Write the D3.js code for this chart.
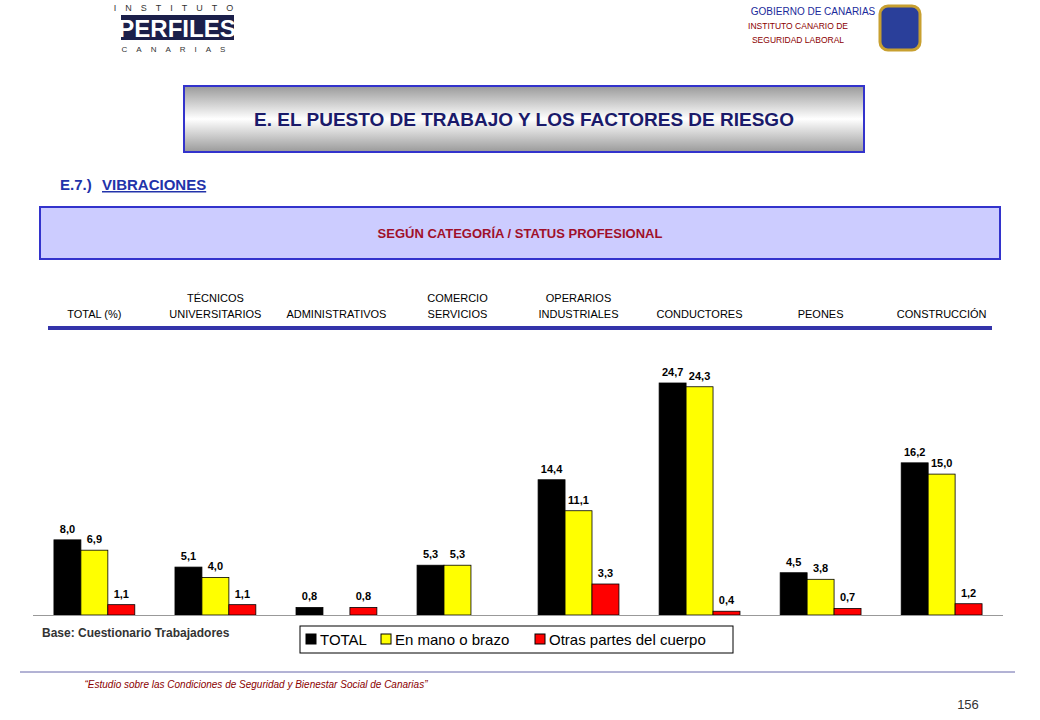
<!DOCTYPE html>
<html><head><meta charset="utf-8">
<script src="https://cdn.jsdelivr.net/npm/d3@7"></script>
<style>body{margin:0;background:#fff}svg{font-family:Arial,"Liberation Sans",sans-serif}</style>
</head><body><svg width="1040" height="720"></svg>
<script>
// data
categories = ["TOTAL (%)","TÉCNICOS\nUNIVERSITARIOS","ADMINISTRATIVOS","COMERCIO\nSERVICIOS","OPERARIOS\nINDUSTRIALES","CONDUCTORES","PEONES","CONSTRUCCIÓN"];
seriesNames = ["TOTAL","En mano o brazo","Otras partes del cuerpo"];
seriesColors = ["#000000","#ffff00","#ff0000"];
totalVals = [8.0,5.1,0.8,5.3,14.4,24.7,4.5,16.2];
manoVals = [6.9,4.0,null,5.3,11.1,24.3,3.8,15.0];
otrasVals = [1.1,1.1,0.8,null,3.3,0.4,0.7,1.2];
series = [totalVals,manoVals,otrasVals];

svg = d3.select("svg");
fmt = d => d.toFixed(1).replace(".",",");

// header
svg.append("text").attr("x",813).attr("y",15).attr("text-anchor","middle").attr("font-size",10).attr("fill","#1a2a9a").text("GOBIERNO DE CANARIAS");
svg.append("text").attr("x",798).attr("y",29).attr("text-anchor","middle").attr("font-size",8.5).attr("fill","#8b0000").text("INSTITUTO CANARIO DE");
svg.append("text").attr("x",798).attr("y",43).attr("text-anchor","middle").attr("font-size",8.5).attr("fill","#8b0000").text("SEGURIDAD LABORAL");
// logo text
svg.append("text").attr("x",178).attr("y",11).attr("text-anchor","middle").attr("font-size",9).attr("letter-spacing",9).attr("fill","#333").text("INSTITUTO");
svg.append("rect").attr("x",121).attr("y",15).attr("width",113).attr("height",25).attr("fill","#1b1f4a");
svg.append("text").attr("x",177).attr("y",37).attr("text-anchor","middle").attr("font-size",24).attr("font-weight","bold").attr("fill","#fff").attr("font-family","Liberation Sans Narrow, Arial").text("PERFILES");
svg.append("text").attr("x",178).attr("y",52).attr("text-anchor","middle").attr("font-size",8).attr("letter-spacing",9).attr("fill","#333").text("CANARIAS");
svg.append("rect").attr("x",880).attr("y",6).attr("width",40).attr("height",44).attr("rx",8).attr("fill","#2a3f9a").attr("stroke","#c8a030").attr("stroke-width",3);

// title box
grad = svg.append("defs").append("linearGradient").attr("id","g").attr("x1",0).attr("y1",0).attr("x2",0).attr("y2",1);
grad.append("stop").attr("offset",0).attr("stop-color","#9a9a9a");
grad.append("stop").attr("offset",0.5).attr("stop-color","#ffffff");
grad.append("stop").attr("offset",1).attr("stop-color","#9a9a9a");
svg.append("rect").attr("x",184).attr("y",86).attr("width",680).attr("height",66).attr("fill","url(#g)").attr("stroke","#3333cc").attr("stroke-width",2);
svg.append("text").attr("x",524).attr("y",126).attr("text-anchor","middle").attr("font-size",19).attr("font-weight","bold").attr("fill","#1a1a6a").text("E. EL PUESTO DE TRABAJO Y LOS FACTORES DE RIESGO");
svg.append("text").attr("x",60).attr("y",190).attr("font-size",15).attr("font-weight","bold").attr("fill","#2233aa").text("E.7.) ");
svg.append("text").attr("x",102).attr("y",190).attr("font-size",15).attr("font-weight","bold").attr("fill","#2233aa").attr("text-decoration","underline").text("VIBRACIONES");
svg.append("rect").attr("x",40).attr("y",207).attr("width",960).attr("height",52).attr("fill","#ccccff").attr("stroke","#3333cc").attr("stroke-width",2);
svg.append("text").attr("x",520).attr("y",238).attr("text-anchor","middle").attr("font-size",13).attr("font-weight","bold").attr("fill","#a0102a").text("SEGÚN CATEGORÍA / STATUS PROFESIONAL");

// scales
x = d3.scaleBand().domain(categories).range([33,1003]).paddingInner(0.332).paddingOuter(0.173);
xs = d3.scaleBand().domain(d3.range(3)).range([0,x.bandwidth()]);
y = d3.scaleLinear().domain([0,24.7]).range([615,383]);

// category labels
categories.forEach(c => {
  lines = c.split("\n");
  t = svg.append("text").attr("text-anchor","middle").attr("font-size",11).attr("font-family","Liberation Sans Narrow, Arial").attr("fill","#000");
  lines.forEach((l,i) => t.append("tspan").attr("x",x(c)+x.bandwidth()/2).attr("y",318-(lines.length-1-i)*16).text(l));
});
svg.append("line").attr("x1",48).attr("x2",992).attr("y1",328).attr("y2",328).attr("stroke","#3333aa").attr("stroke-width",4);

// bars
series.forEach((vals,s) => {
  g = svg.append("g");
  vals.forEach((v,i) => {
    if (v == null) return;
    bx = x(categories[i]) + xs(s);
    g.append("rect").attr("x",bx).attr("y",y(v)).attr("width",xs.bandwidth()).attr("height",y(0)-y(v))
      .attr("fill",seriesColors[s]).attr("stroke","#000").attr("stroke-width",0.8);
    g.append("text").attr("x",bx+xs.bandwidth()/2).attr("y",y(v)-7).attr("text-anchor","middle").attr("font-size",11).attr("font-weight","bold").text(fmt(v));
  });
});
svg.append("line").attr("x1",33).attr("x2",1003).attr("y1",615.5).attr("y2",615.5).attr("stroke","#999");

// base + legend
svg.append("text").attr("x",42).attr("y",637).attr("font-size",12).attr("font-weight","bold").attr("fill","#333").text("Base: Cuestionario Trabajadores");
svg.append("rect").attr("x",300).attr("y",626).attr("width",433).attr("height",27).attr("fill","#fff").attr("stroke","#000");
lx = [306,381,535];
seriesNames.forEach((n,i) => {
  svg.append("rect").attr("x",lx[i]).attr("y",634).attr("width",10).attr("height",10).attr("fill",seriesColors[i]).attr("stroke","#000");
  svg.append("text").attr("x",lx[i]+14).attr("y",645).attr("font-size",15).text(n);
});

// footer
svg.append("line").attr("x1",20).attr("x2",1015).attr("y1",672).attr("y2",672).attr("stroke","#6666aa");
svg.append("text").attr("x",256).attr("y",688).attr("text-anchor","middle").attr("font-size",10).attr("font-style","italic").attr("fill","#8b0000").text("“Estudio sobre las Condiciones de Seguridad y Bienestar Social de Canarias”");
svg.append("text").attr("x",968).attr("y",709).attr("text-anchor","middle").attr("font-size",13).attr("fill","#333").text("156");
</script></body></html>
